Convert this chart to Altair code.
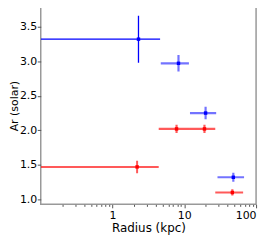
import altair as alt
import pandas as pd

# Blue series
blue_r = [2.3, 8.3, 19.8, 48.2]
blue_r_lo = [0.1, 4.7, 12.0, 29.0]
blue_r_hi = [4.6, 11.6, 27.8, 68.0]
blue_ar = [3.32, 2.97, 2.25, 1.32]
blue_err = [0.34, 0.12, 0.09, 0.065]

# Red series
red_r = [2.2, 7.8, 19.1, 46.7]
red_r_lo = [0.1, 4.4, 12.0, 27.0]
red_r_hi = [4.4, 12.0, 27.0, 66.0]
red_ar = [1.47, 2.02, 2.02, 1.10]
red_err = [0.09, 0.06, 0.06, 0.045]

x_ticks = [1, 10, 100]
minor = [0.2, 0.3, 0.4, 0.5, 0.6, 0.7, 0.8, 0.9, 2, 3, 4, 5, 6, 7, 8, 9,
         20, 30, 40, 50, 60, 70, 80, 90]
y_ticks = [1.0, 1.5, 2.0, 2.5, 3.0, 3.5]


def frame(r, lo, hi, ar, err, name):
    return pd.DataFrame({
        "idx": list(range(len(r))),
        "r": r, "r_lo": lo, "r_hi": hi, "ar": ar,
        "ar_lo": [a - e for a, e in zip(ar, err)],
        "ar_hi": [a + e for a, e in zip(ar, err)],
        "series": name,
    })


blue = frame(blue_r, blue_r_lo, blue_r_hi, blue_ar, blue_err, "blue")
red = frame(red_r, red_r_lo, red_r_hi, red_ar, red_err, "red")

xscale = alt.Scale(type="log", domain=[0.1, 100], nice=False)
yscale = alt.Scale(domain=[0.928, 3.787], nice=False, zero=False)

tick_vals = sorted(x_ticks + minor)
xaxis = alt.Axis(
    values=tick_vals,
    labelExpr="(datum.value == 1 || datum.value == 10 || datum.value == 100) ? format(datum.value, 'd') : ''",
    tickSize={"condition": {"test": "datum.value == 1 || datum.value == 10 || datum.value == 100", "value": 3.5}, "value": 2},
    title="Radius (kpc)",
    grid=False,
)
yaxis = alt.Axis(values=y_ticks, labelExpr="format(datum.value, '.1f')",
                 title="Ar (solar)", grid=False,
                 tickSize=3.5, titleX=-32, titleBaseline="top", labelPadding=0.5,
                 titleFontSize=11, labelOverlap=False, labelBound=False)

X = alt.X("r:Q", scale=xscale, axis=xaxis)
Y = alt.Y("ar:Q", scale=yscale, axis=yaxis)


def layers(df, color, opacity_first, opacity_rest, w_first, w_rest):
    base = alt.Chart(df)
    out = []
    for cond, op, w in [("datum.idx == 0", opacity_first, w_first),
                        ("datum.idx > 0", opacity_rest, w_rest)]:
        b = base.transform_filter(cond)
        out.append(b.mark_rule(color=color, opacity=op, strokeWidth=w, clip=True).encode(
            x=alt.X("r_lo:Q", scale=xscale, axis=xaxis), x2="r_hi:Q", y=Y))
        out.append(b.mark_rule(color=color, opacity=op, strokeWidth=w, clip=True).encode(
            x=X, y=alt.Y("ar_lo:Q", scale=yscale, axis=yaxis), y2="ar_hi:Q"))
    out.append(base.mark_square(color=color, size=12, opacity=1).encode(x=X, y=Y))
    return out


chart = alt.layer(
    *layers(blue, "#0000ff", 1.0, 0.55, 1.3, 2.2),
    *layers(red, "#ff0000", 0.65, 0.65, 2.0, 2.2),
).properties(
    width=217, height=199,
    autosize=alt.AutoSizeParams(type="none"),
    padding={"left": 33, "top": -2, "right": 10, "bottom": 30},
).configure_view(
    stroke="#999999", strokeWidth=1.5
).configure_axis(
    domain=False,
    labelFont="DejaVu Sans", titleFont="DejaVu Sans",
    labelFontSize=11, titleFontSize=12,
    labelColor="#000000", titleColor="#000000",
    titleFontWeight="normal",
    tickColor="#555555",
).configure_axisX(titlePadding=2, labelPadding=2)

chart.save("out.html", embed_options={"renderer": "svg", "actions": False})
